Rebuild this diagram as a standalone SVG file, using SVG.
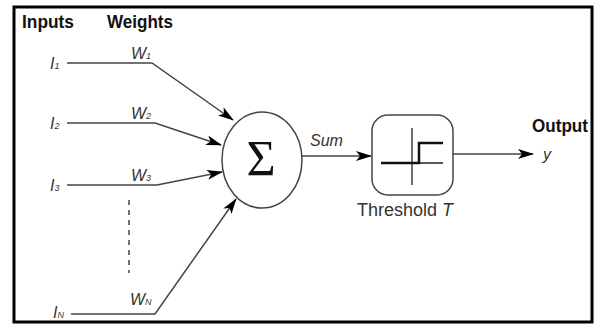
<svg xmlns="http://www.w3.org/2000/svg" width="599" height="326" viewBox="0 0 599 326">
<defs>
<style>
.hdr{font-family:"Liberation Sans",Arial,sans-serif;font-weight:bold;font-size:18px;fill:#111}
.lbl{font-family:"Liberation Sans",Arial,sans-serif;font-style:italic;font-size:16px;fill:#333}
.sub{font-size:9px}
.txt{font-family:"Liberation Sans",Arial,sans-serif;font-size:18px;fill:#333}
.ln{fill:none;stroke:#444;stroke-width:1.5}
.shape{fill:#fff;stroke:#444;stroke-width:1.5}
.thick{fill:none;stroke:#111;stroke-width:2.5}
.thin{fill:none;stroke:#222;stroke-width:1.3}
</style>
<marker id="arr" viewBox="0 0 16 10" refX="15" refY="5" markerWidth="16" markerHeight="10" markerUnits="userSpaceOnUse" orient="auto">
<path d="M0,0 L16,5 L0,10 L4,5 z" fill="#000"/>
</marker>
</defs>
<rect x="14" y="7" width="578" height="315" fill="#fff" stroke="#000" stroke-width="3"/>
<text class="hdr" x="22" y="28" textLength="52" lengthAdjust="spacingAndGlyphs">Inputs</text>
<text class="hdr" x="107" y="28" textLength="66" lengthAdjust="spacingAndGlyphs">Weights</text>
<g id="connectors">
<path class="ln" d="M67,63 H152 L233,120" marker-end="url(#arr)"/>
<path class="ln" d="M67,123 H155 L221,145" marker-end="url(#arr)"/>
<path class="ln" d="M67,185 H157 L222,172" marker-end="url(#arr)"/>
<path class="ln" d="M71,314 H155 L236,199" marker-end="url(#arr)"/>
<path class="ln" d="M129,200 V273" stroke-dasharray="5,5"/>
<path class="ln" d="M302,156 H371" marker-end="url(#arr)"/>
<path class="ln" d="M453,154 H533" marker-end="url(#arr)"/>
</g>
<g id="inputs">
<text class="lbl" x="50" y="69">I<tspan class="sub">1</tspan></text>
<text class="lbl" x="50" y="129">I<tspan class="sub">2</tspan></text>
<text class="lbl" x="50" y="191">I<tspan class="sub">3</tspan></text>
<text class="lbl" x="53" y="318">I<tspan class="sub">N</tspan></text>
</g>
<g id="weights">
<text class="lbl" x="131" y="59">W<tspan class="sub">1</tspan></text>
<text class="lbl" x="131" y="119">W<tspan class="sub">2</tspan></text>
<text class="lbl" x="131" y="181">W<tspan class="sub">3</tspan></text>
<text class="lbl" x="130" y="305">W<tspan class="sub">N</tspan></text>
</g>
<g id="sum">
<ellipse class="shape" cx="262" cy="160" rx="40" ry="48"/>
<text x="261" y="175" text-anchor="middle" font-family="'Liberation Serif','Times New Roman',serif" font-size="50" fill="#111">Σ</text>
<text class="lbl" x="310" y="146" font-size="17">Sum</text>
</g>
<g id="threshold">
<rect class="shape" x="372" y="115" width="81" height="80" rx="16"/>
<path class="thin" d="M412,128 V185"/>
<path class="thin" d="M398,163 H443"/>
<path class="thick" d="M381,163 H419 V143 H443"/>
<text class="txt" x="357" y="216">Threshold <tspan font-style="italic">T</tspan></text>
</g>
<g id="output">
<text class="hdr" x="532" y="132" textLength="56" lengthAdjust="spacingAndGlyphs">Output</text>
<text class="lbl" x="543" y="160" font-size="17">y</text>
</g>
</svg>
